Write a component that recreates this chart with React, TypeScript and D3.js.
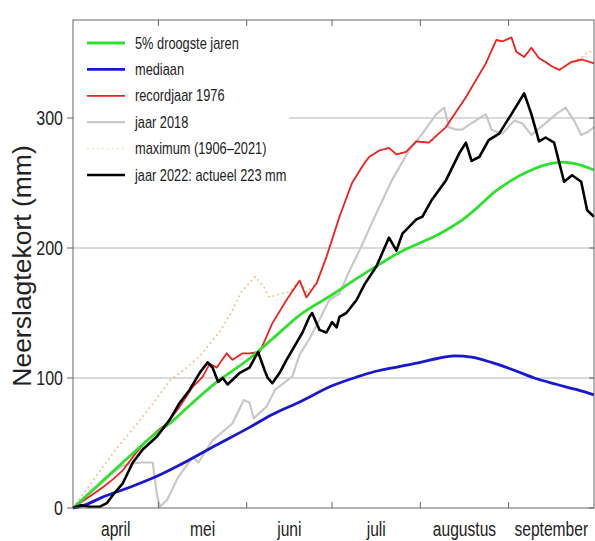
import React from "react";
import * as d3 from "d3";

// day 0 = 1 april, day 183 = 30 september
const monthStarts = [0, 30, 61, 91, 122, 153, 183];
const monthNames = ["april", "mei", "juni", "juli", "augustus", "september"];
const yTicks = [0, 100, 200, 300];

const droogste5: [number, number][] = [
  [0, 0], [10, 20], [20, 40], [30, 59], [34, 65], [40, 77], [50, 96], [62, 115], [70, 130], [80, 149],
  [91, 164], [100, 177], [108, 188], [115, 197], [122, 204], [128, 210], [132, 215], [137, 222],
  [142, 231], [148, 243], [154, 252], [160, 259], [166, 264], [172, 266], [178, 264], [183, 260],
];

const mediaan: [number, number][] = [
  [0, 0], [5, 3], [10, 8], [20, 16], [30, 25], [40, 36], [50, 48], [62, 62], [70, 72], [80, 82],
  [91, 94], [100, 101], [106, 105], [115, 109], [122, 112], [128, 115], [134, 117], [140, 116],
  [147, 112], [155, 106], [162, 100], [170, 95], [177, 91], [183, 87],
];

const record1976: [number, number][] = [
  [0, 0], [2.5, 4], [6, 9], [10.5, 16], [14, 22], [17.5, 29], [22, 42], [26, 52], [30, 60], [33, 65],
  [37.5, 78], [42, 93], [45.6, 101], [48, 111], [50.5, 108], [54, 119], [56, 114], [59.6, 119],
  [62, 119], [65.6, 120], [70, 142], [75, 160], [79.6, 175], [82, 162], [85.6, 173], [89, 193],
  [93.6, 224], [98, 250], [102, 264], [104, 270], [107.6, 275], [111, 277], [113.6, 272], [117, 274],
  [120.6, 282], [125, 281], [131, 293], [138, 316], [145, 342], [148.7, 360], [151, 359], [154, 362],
  [155.7, 351], [158.5, 347], [161, 354], [163.7, 346], [166, 343], [168, 340], [170.8, 337],
  [175, 343], [178.8, 345], [183, 342],
];

const jaar2018: [number, number][] = [
  [0, 0], [5, 9], [10, 19], [14, 27], [17, 32], [20, 34], [24, 35], [28, 35], [29.5, 10], [30.5, 1],
  [33, 6], [37, 24], [42, 39], [44, 35], [49, 52], [56, 65], [60, 83], [62, 81], [63.5, 69], [68, 78],
  [71, 91], [77, 101], [79.6, 118], [83, 130], [86.6, 145], [90, 160], [93.6, 165], [97, 182],
  [100.6, 198], [106.6, 227], [112, 252], [118, 275], [122.7, 288], [127.6, 303], [130.4, 308],
  [132, 293], [134.6, 291], [136.7, 291], [140, 296], [145, 303], [147, 291], [150.8, 288], [155, 298],
  [157.8, 296], [161, 287], [163.7, 292], [166, 296], [169.7, 303], [173, 308], [176, 298],
  [178.5, 287], [180.6, 289], [183, 293],
];

// after early June the maximum coincides with 1976 almost everywhere
const maximum: [number, number][] = [
  [0, 0], [5, 15], [10, 30], [15, 45], [20, 58], [28, 80], [34, 98], [40, 108], [45, 118], [52, 137],
  [56, 152], [59, 166], [64, 178], [67, 170], [69, 162], [73, 165], [76, 166], [79.6, 175], [82, 166],
  [85.6, 173], [89, 193], [93.6, 224], [98, 250], [102, 264], [104, 270], [107.6, 275], [111, 277],
  [113.6, 272], [117, 274], [120.6, 282], [125, 281], [131, 293], [138, 316], [145, 342],
  [148.7, 360], [151, 359], [154, 362], [155.7, 351], [158.5, 347], [161, 354], [163.7, 346],
  [166, 343], [168, 340], [170.8, 337], [175, 343], [178.8, 347], [181, 351], [183, 351],
];

const jaar2022: [number, number][] = [
  [0, 0], [2.5, 2], [6, 1], [9.5, 1], [12, 4], [14, 10], [17.5, 19], [21, 35], [24.5, 45], [29.5, 55],
  [34, 68], [37.5, 81], [41, 91], [44.5, 104], [47.3, 112], [49, 108], [51, 97], [52.6, 100],
  [54.3, 95], [58.6, 104], [62, 108], [65, 120], [67.3, 106], [68.4, 100], [70, 96], [72.6, 104],
  [75, 114], [78.5, 127], [80.6, 135], [83, 147], [84, 150], [86.6, 137], [89, 135], [91, 143],
  [92.6, 139], [93.6, 147], [96, 150], [99.6, 160], [102.4, 172], [106.6, 186], [111, 208],
  [113.6, 198], [115.7, 211], [120.6, 222], [122.7, 224], [126, 237], [131, 252], [135.7, 273],
  [138, 281], [140, 267], [142.7, 270], [146, 283], [149.7, 288], [154, 303], [158.5, 319],
  [161, 303], [163.7, 282], [166, 285], [169, 281], [172.5, 251], [175.3, 256], [178.5, 251],
  [180.6, 229], [183, 224],
];

const legendLabels = [
  "5% droogste jaren",
  "mediaan",
  "recordjaar 1976",
  "jaar 2018",
  "maximum (1906\u20132021)",
  "jaar 2022: actueel 223 mm",
];

const W = 595;
const H = 541;
const left = 73;
const right = 594;
const top = 20;
const bottom = 508;
const font = "'Liberation Sans', Arial, sans-serif";

// the original uses a condensed sans; squeeze Liberation Sans horizontally
function NText(props: { x: number; y: number; size: number; anchor?: string; children: any }) {
  return (
    <text transform={`translate(${props.x},${props.y}) scale(0.8,1)`} textAnchor={props.anchor || "start"}
      fontSize={props.size} fontFamily={font} fill="#222">{props.children}</text>
  );
}

export default function App() {
  const x = d3.scaleLinear().domain([0, 183]).range([left, right]);
  const y = d3.scaleLinear().domain([0, 375]).range([bottom, top + 0.5]);

  const straight = d3.line<[number, number]>().x(d => x(d[0])).y(d => y(d[1]));
  const smooth = d3.line<[number, number]>().x(d => x(d[0])).y(d => y(d[1])).curve(d3.curveMonotoneX);

  const series = [
    { data: droogste5, color: "#2fe02f", width: 2.8, dash: undefined, gen: smooth },
    { data: mediaan, color: "#1818d0", width: 2.8, dash: undefined, gen: smooth },
    { data: record1976, color: "#ee2020", width: 1.8, dash: undefined, gen: straight },
    { data: jaar2018, color: "#c8c8c8", width: 2.2, dash: undefined, gen: straight },
    { data: maximum, color: "#f2b060", width: 1.6, dash: "1.5,3.5", gen: straight },
    { data: jaar2022, color: "#000000", width: 2.6, dash: undefined, gen: straight },
  ];
  // drawing order: max, 2018, 1976, green, blue, 2022
  const order = [4, 3, 2, 0, 1, 5];

  return (
    <svg width={W} height={H} style={{ position: "absolute", left: 0, top: 0, background: "white" }}>
      {/* grid */}
      {yTicks.filter(t => t > 0).map(t => (
        <line key={"g" + t} x1={left} x2={right} y1={y(t)} y2={y(t)} stroke="#b4b4b4" strokeWidth={1} />
      ))}

      {order.map(i => {
        const s = series[i];
        return (
          <path key={"s" + i} d={s.gen(s.data) || ""} fill="none" stroke={s.color}
            strokeWidth={s.width} strokeDasharray={s.dash} strokeLinejoin="round" />
        );
      })}

      {/* legend */}
      <rect x={left + 1} y={top + 1} width={215} height={172} fill="white" />
      {legendLabels.map((lab, i) => {
        const s = series[i];
        const ly = 43 + i * 26.4;
        return (
          <g key={"l" + i}>
            <line x1={87} x2={125} y1={ly} y2={ly} stroke={i === 4 ? "#f0d8a0" : s.color}
              strokeWidth={i === 4 ? 1.4 : s.width} strokeDasharray={s.dash} />
            <NText x={135} y={ly + 5.5} size={16}>{lab}</NText>
          </g>
        );
      })}

      {/* frame */}
      <rect x={left} y={top} width={right - left} height={bottom - top} fill="none" stroke="#666" strokeWidth={1} />

      {/* y axis */}
      {yTicks.map(t => (
        <g key={"y" + t}>
          <line x1={left - 6} x2={left} y1={y(t)} y2={y(t)} stroke="#666" />
          <line x1={right - 5} x2={right} y1={y(t)} y2={y(t)} stroke="#666" />
          <NText x={63} y={y(t) + 7} size={20} anchor="end">{t}</NText>
        </g>
      ))}
      <text transform={`translate(31,266) rotate(-90)`} textAnchor="middle" fontSize={26.5}
        fontFamily={font} fill="#222">Neerslagtekort (mm)</text>

      {/* x axis */}
      {monthStarts.slice(1, -1).map(d => (
        <g key={"x" + d}>
          <line x1={x(d)} x2={x(d)} y1={bottom} y2={bottom - 6} stroke="#666" />
          <line x1={x(d)} x2={x(d)} y1={top} y2={top + 6} stroke="#666" />
        </g>
      ))}
      {monthNames.map((m, i) => (
        <NText key={m} x={x((monthStarts[i] + monthStarts[i + 1]) / 2)} y={536} size={19.5} anchor="middle">{m}</NText>
      ))}
    </svg>
  );
}
